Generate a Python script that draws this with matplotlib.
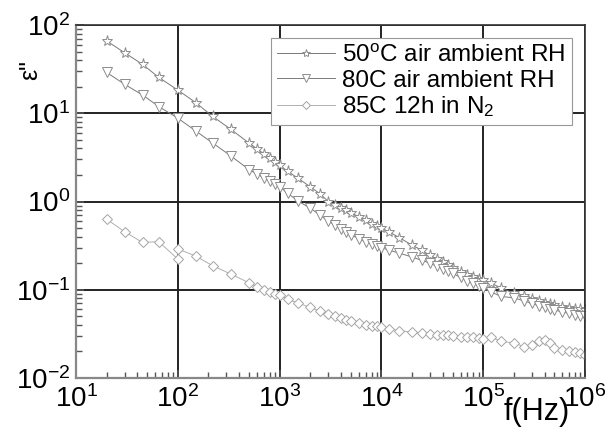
import matplotlib
matplotlib.use('Agg')
import matplotlib.pyplot as plt
from matplotlib.ticker import LogLocator, NullFormatter

plt.rcParams['font.family'] = ['Liberation Sans', 'DejaVu Sans']
plt.rcParams['mathtext.fontset'] = 'custom'
plt.rcParams['mathtext.rm'] = 'Liberation Sans'
plt.rcParams['mathtext.it'] = 'Liberation Sans:italic'

# frequency sweep (Hz)
freq = [20, 30, 45, 65, 100,
        150, 220, 330, 500, 600, 700, 800, 900, 1000,
        1200, 1500, 2000, 2500, 3000, 3500, 4000, 4500, 5000, 6000, 7000, 8000, 9000, 10000,
        12000, 15000, 20000, 25000, 30000, 35000, 40000, 45000, 50000, 60000, 70000, 80000, 90000, 100000,
        120000, 150000, 200000, 250000, 300000, 350000, 400000, 450000, 500000, 600000, 700000, 800000,
        900000, 1000000]

# diamond series has a repeated point at 100 Hz
freq_n2 = [20, 30, 45, 65, 100, 100,
           150, 220, 330, 500, 600, 700, 800, 900, 1000,
           1200, 1500, 2000, 2500, 3000, 3500, 4000, 4500, 5000, 6000, 7000, 8000, 9000, 10000,
           12000, 15000, 20000, 25000, 30000, 35000, 40000, 45000, 50000, 60000, 70000, 80000, 90000, 100000,
           120000, 150000, 200000, 250000, 300000, 350000, 400000, 450000, 500000, 600000, 700000, 800000,
           900000, 1000000]

eps_50c = [66, 48.5, 35.8, 25.5, 18.3,
           13.2, 9.2, 6.6, 4.6, 3.96, 3.48, 3.11, 2.82, 2.58,
           2.2, 1.85, 1.47, 1.22, 1.0, 0.91, 0.85, 0.80, 0.75, 0.67, 0.61, 0.56, 0.53, 0.50,
           0.45, 0.39, 0.32, 0.28, 0.245, 0.225, 0.205, 0.19, 0.178, 0.16, 0.148, 0.14, 0.134, 0.128,
           0.118, 0.105, 0.091, 0.084, 0.078, 0.074, 0.071, 0.069, 0.067, 0.064, 0.062, 0.061,
           0.060, 0.059]

eps_80c = [29, 21.3, 16.1, 11.9, 8.8,
           6.3, 4.6, 3.3, 2.3, 2.05, 1.85, 1.7, 1.58, 1.47,
           1.24, 1.02, 0.84, 0.70, 0.60, 0.54, 0.49, 0.45, 0.42, 0.38, 0.35, 0.33, 0.315, 0.30,
           0.28, 0.26, 0.235, 0.215, 0.20, 0.185, 0.172, 0.162, 0.153, 0.138, 0.127, 0.118, 0.111, 0.104,
           0.094, 0.084, 0.081, 0.075, 0.070, 0.066, 0.064, 0.061, 0.059, 0.056, 0.054, 0.052,
           0.051, 0.050]

eps_n2 = [0.63, 0.455, 0.344, 0.35, 0.223, 0.29,
          0.241, 0.187, 0.151, 0.12, 0.108, 0.10, 0.095, 0.09, 0.087,
          0.078, 0.071, 0.063, 0.057, 0.053, 0.05, 0.048, 0.046, 0.044, 0.042, 0.040, 0.039, 0.0385, 0.038,
          0.036, 0.0345, 0.033, 0.032, 0.0315, 0.031, 0.031, 0.0305, 0.030, 0.0295, 0.029, 0.0288, 0.0285, 0.028,
          0.029, 0.026, 0.025, 0.0227, 0.0237, 0.026, 0.027, 0.025, 0.022, 0.021, 0.020, 0.0195,
          0.019, 0.0182]

labels = ['50$^{\\rm o}$C air ambient RH', '80C air ambient RH', '85C 12h in N$_2$']

fig = plt.figure(figsize=(6.16, 4.28), dpi=100)
ax = fig.add_axes([0.1234, 0.1168, 0.8263, 0.8248])

ax.plot(freq, eps_50c, '-', color='#7a7a7a', lw=0.7, marker='*', ms=8,
        mfc='white', mec='#8c8c8c', mew=0.7, label=labels[0])
ax.plot(freq, eps_80c, '-', color='#7a7a7a', lw=0.7, marker='v', ms=7,
        mfc='white', mec='#8c8c8c', mew=0.7, label=labels[1])
ax.plot(freq_n2, eps_n2, '-', color='#b0b0b0', lw=0.7, marker='D', ms=5.5,
        mfc='white', mec='#a4a4a4', mew=0.7, label=labels[2])

ax.set_xscale('log')
ax.set_yscale('log')
ax.set_xlim(10, 1e6)
ax.set_ylim(1e-2, 1e2)

ax.xaxis.set_major_locator(LogLocator(base=10, numticks=10))
ax.yaxis.set_major_locator(LogLocator(base=10, numticks=10))
ax.xaxis.set_minor_locator(LogLocator(base=10, subs=range(2, 10), numticks=20))
ax.yaxis.set_minor_locator(LogLocator(base=10, subs=range(2, 10), numticks=20))
ax.xaxis.set_minor_formatter(NullFormatter())
ax.yaxis.set_minor_formatter(NullFormatter())

ax.grid(True, which='major', color='#222222', lw=1.4)
ax.tick_params(which='both', direction='in', top=False, right=False,
               labelsize=20, color='#555555')
ax.tick_params(which='major', length=6, width=1.2)
ax.tick_params(which='minor', length=4, width=1.0)
ax.tick_params(axis='x', pad=5)
ax.tick_params(axis='y', pad=4)
for side in ['left', 'bottom']:
    ax.spines[side].set_color('#888888')
    ax.spines[side].set_linewidth(1.6)
for side in ['top', 'right']:
    ax.spines[side].set_color('#333333')
    ax.spines[side].set_linewidth(1.2)

fig.text(0.872, 0.018, 'f(Hz)', fontsize=22, ha='center', va='baseline')
fig.text(0.049, 0.836, 'ε"', fontsize=18, rotation=90, ha='center', va='center')

leg = ax.legend(loc='upper right', fontsize=17.5, handlelength=2.4, handletextpad=0.3,
                labelspacing=0.12, borderpad=0.25, borderaxespad=0.55,
                markerscale=0.75, fancybox=False, framealpha=1)
leg.get_frame().set_edgecolor('#999999')
leg.get_frame().set_linewidth(0.8)

fig.savefig('out.png', dpi=100)
